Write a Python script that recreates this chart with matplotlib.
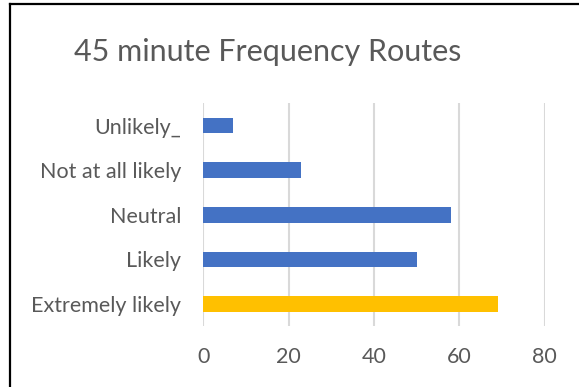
import matplotlib
matplotlib.use("Agg")
import matplotlib.pyplot as plt
from matplotlib.lines import Line2D

categories = ["Extremely likely", "Likely", "Neutral", "Not at all likely", "Unlikely_"]
values = [69, 50, 58, 23, 7]
colors = ["#FFC000", "#4472C4", "#4472C4", "#4472C4", "#4472C4"]

plt.rcParams["font.family"] = ["Lato", "DejaVu Sans"]
text_color = "#595959"

fig = plt.figure(figsize=(5.79, 3.87), dpi=100)
ax = fig.add_axes([0.3511, 0.1568, 0.5897, 0.5765])

ax.barh(range(len(categories)), values, height=0.35, color=colors, zorder=3)
ax.set_ylim(-0.5, len(categories) - 0.5)
ax.set_xlim(0, 80)
ax.set_xticks([0, 20, 40, 60, 80])
ax.set_yticks(range(len(categories)))
ax.set_yticklabels(categories)

ax.grid(axis="x", color="#D9D9D9", linewidth=1.5, zorder=0)
for s in ax.spines.values():
    s.set_visible(False)
ax.tick_params(axis="y", length=0, pad=16, labelsize=15.5, labelcolor=text_color)
ax.tick_params(axis="x", length=0, pad=15, labelsize=15.5, labelcolor=text_color)

fig.text(0.463, 0.866, "45 minute Frequency Routes", ha="center", va="center",
         fontsize=22, color=text_color)

# frame edges along the left and top
fig.add_artist(Line2D([10 / 579, 10 / 579], [0, 1 - 4 / 387], color="black", linewidth=1.6))
fig.add_artist(Line2D([10 / 579, 1], [1 - 4 / 387, 1 - 4 / 387], color="black", linewidth=1.6))

fig.savefig("out.png", dpi=100)
